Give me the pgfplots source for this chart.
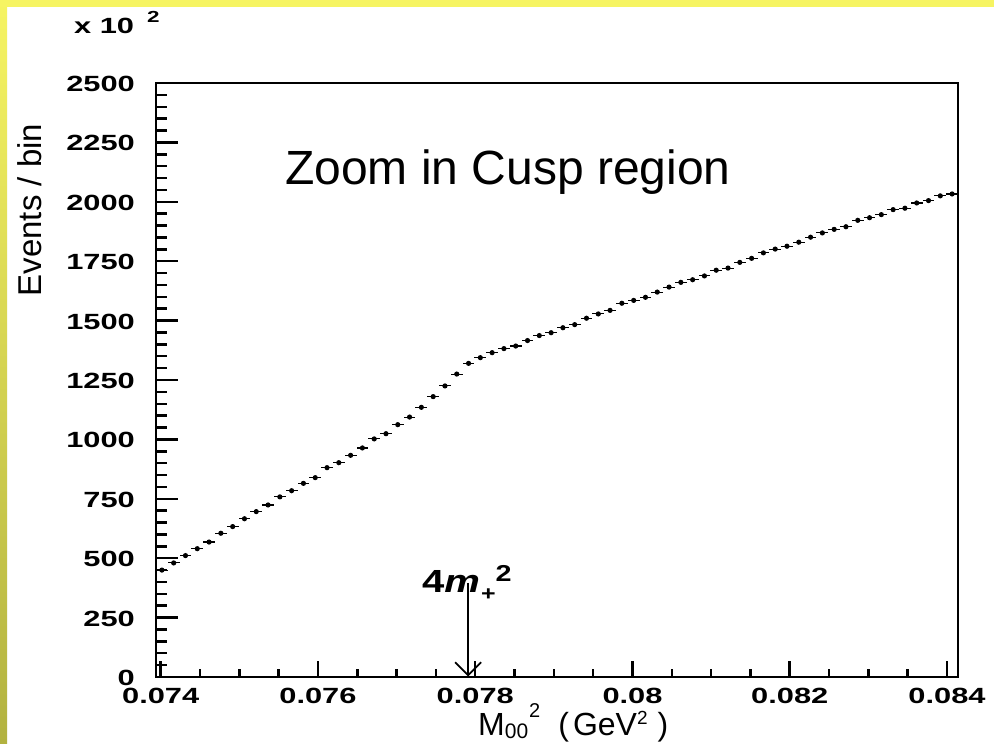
\documentclass[border=0pt]{standalone}
\usepackage{pgfplots}
\pgfplotsset{compat=1.18}
\usepackage{pgfplotstable}
\usepackage{fontspec}
\setmainfont{Liberation Sans}
\newfontfamily\widefont[FakeStretch=1.4]{Liberation Sans}
\newfontfamily\midwide[FakeStretch=1.25]{Liberation Sans}
\usetikzlibrary{arrows.meta}
\definecolor{topyellow}{RGB}{246,244,98}
\definecolor{oliveband}{RGB}{178,178,64}

\pgfplotstableread{
x y e
0.074015 450 3.8
0.074165 480 3.9
0.074315 511 4.0
0.074465 540 4.2
0.074615 568 4.3
0.074765 605 4.5
0.074915 633 4.5
0.075065 666 4.6
0.075215 696 4.8
0.075365 724 4.8
0.075515 758 5.0
0.075665 784 5.1
0.075815 815 5.1
0.075965 839 5.2
0.076115 881 5.4
0.076265 902 5.4
0.076415 933 5.5
0.076565 964 5.5
0.076715 1002 5.7
0.076865 1024 5.7
0.077015 1062 5.8
0.077165 1094 6.0
0.077315 1135 6.0
0.077465 1180 6.1
0.077615 1225 6.3
0.077765 1275 6.4
0.077915 1320 6.6
0.078065 1344 6.6
0.078215 1365 6.6
0.078365 1382 6.7
0.078515 1393 6.7
0.078665 1416 6.7
0.078815 1437 6.7
0.078965 1449 6.9
0.079115 1470 6.9
0.079265 1483 6.9
0.079415 1510 7.0
0.079565 1528 7.0
0.079715 1543 7.0
0.079865 1573 7.2
0.080015 1585 7.2
0.080165 1598 7.2
0.080315 1620 7.2
0.080465 1641 7.3
0.080615 1661 7.3
0.080765 1672 7.3
0.080915 1688 7.3
0.081065 1712 7.5
0.081215 1721 7.5
0.081365 1745 7.5
0.081515 1762 7.5
0.081665 1785 7.6
0.081815 1801 7.6
0.081965 1813 7.6
0.082115 1830 7.6
0.082265 1851 7.8
0.082415 1869 7.8
0.082565 1884 7.8
0.082715 1895 7.8
0.082865 1922 7.9
0.083015 1933 7.9
0.083165 1946 7.9
0.083315 1967 7.9
0.083465 1973 7.9
0.083615 1995 8.1
0.083765 2005 8.1
0.083915 2025 8.1
0.084065 2033 8.1
}\histdata

\begin{document}
\begin{tikzpicture}[x=1pt,y=1pt]
\fill[white] (0,0) rectangle (994,744);
\shade[top color=topyellow, bottom color=oliveband] (0,0) rectangle (7,744);
\fill[topyellow] (0,737) rectangle (994,744);

% axis with data and x ticks
\begin{axis}[
  at={(156pt,67pt)}, anchor=south west,
  scale only axis, width=802pt, height=594pt,
  xmin=0.07394, xmax=0.08414, ymin=0, ymax=2500,
  axis line style={line width=2.5pt},
  tick pos=left, tick align=inside,
  scaled ticks=false,
  xtick={0.074,0.076,0.078,0.08,0.082,0.084},
  xticklabels={0.074,0.076,0.078,0.08,0.082,0.084},
  minor x tick num=3,
  ytick=\empty,
  major tick length=15.7pt, minor tick length=8pt,
  tick style={line width=2.5pt, black},
  major tick style={line width=2.5pt, black},
  minor tick style={line width=2.5pt, black},
  xticklabel style={font=\widefont\bfseries\fontsize{22}{22}\selectfont, inner sep=1pt, yshift=-10pt},
  clip mode=individual,
  xlabel={M\raisebox{-0.08em}{\fontsize{21}{21}\selectfont 00}\kern1pt\raisebox{0.58em}{\fontsize{20}{20}\selectfont 2}\hspace{18pt}(\kern4pt GeV\raisebox{0.36em}{\fontsize{19}{19}\selectfont 2}\kern10pt)},
  xlabel style={font=\fontsize{32}{32}\selectfont, at={(axis description cs:0.4015,-0.0993)}, anchor=base west, inner sep=0pt},
]
\addplot[black, line width=1.1pt, only marks, mark=none,
  error bars/.cd, x dir=both, x fixed=0.000075, y dir=both, y explicit,
  error mark=none, error bar style={line width=1.1pt}]
  table[x=x, y=y, y error=e] {\histdata};
\draw[line width=1.8pt, -{Straight Barb[length=13pt,width=26pt,line width=1.8pt]}]
  (axis cs:0.07791,396) -- (axis cs:0.07791,2);
\end{axis}

% axis with y ticks
\begin{axis}[
  at={(156pt,67pt)}, anchor=south west,
  scale only axis, width=802pt, height=594pt,
  xmin=0.07394, xmax=0.08414, ymin=0, ymax=2500,
  axis line style={line width=2.5pt},
  tick pos=left, tick align=inside,
  scaled ticks=false,
  xtick=\empty,
  ytick={0,250,500,750,1000,1250,1500,1750,2000,2250,2500},
  yticklabels={0,250,500,750,1000,1250,1500,1750,2000,2250,2500},
  minor y tick num=4,
  major tick length=22pt, minor tick length=11pt,
  tick style={line width=2.5pt, black},
  major tick style={line width=2.5pt, black},
  minor tick style={line width=2.5pt, black},
  yticklabel style={font=\widefont\bfseries\fontsize{22}{22}\selectfont, inner sep=1pt, xshift=-20pt, yshift=-1pt},
  ylabel={Events / bin},
  ylabel style={font=\fontsize{33}{33}\selectfont, at={(axis description cs:-0.157,0.786)}, anchor=center, rotate=0},
]
\end{axis}

\node[anchor=base west, inner sep=0pt, font=\widefont\bfseries\fontsize{22}{22}\selectfont] at (74,710) {x 10};
\node[anchor=base west, inner sep=0pt, font=\widefont\bfseries\fontsize{16}{16}\selectfont] at (147,721) {2};
\node[anchor=base west, inner sep=0pt, font=\fontsize{48}{48}\selectfont] at (285,559) {Zoom in Cusp region};
\node[anchor=base west, inner sep=0pt, font=\midwide\bfseries\fontsize{32}{32}\selectfont] at (422,151)
  {4\textit{m}\kern1pt\raisebox{-0.25em}{\fontsize{20}{20}\selectfont +}\raisebox{0.36em}{\fontsize{23}{23}\selectfont 2}};
\end{tikzpicture}
\end{document}
